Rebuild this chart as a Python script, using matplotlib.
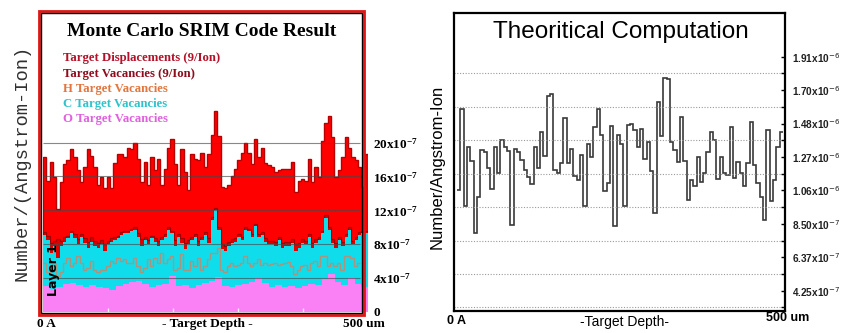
import numpy as np
import matplotlib
matplotlib.use('Agg')
import matplotlib.pyplot as plt
from matplotlib.patches import Rectangle

#--------------------------------------------
# Data
#--------------------------------------------

# left panel (SRIM), units of 1e-7 number/(Angstrom-Ion)
disp = [18.3, 15.5, 17.7, 15.9, 12.1, 15.3, 17.5, 17.9, 19.2, 18.3,
        16.7, 15.3, 17.1, 19.2, 18.4, 17.1, 15.0, 15.9, 14.6, 15.9,
        14.6, 17.6, 18.6, 18.7, 18.3, 19.4, 19.2, 19.9, 18.1, 15.3,
        17.7, 15.0, 18.3, 16.7, 18.0, 15.0, 16.9, 19.4, 20.4, 17.5,
        15.0, 19.2, 16.5, 14.4, 18.6, 18.0, 17.9, 18.8, 17.1, 18.7,
        20.9, 23.7, 20.8, 14.8, 14.6, 15.0, 16.1, 16.9, 17.9, 18.8,
        20.0, 18.8, 17.5, 20.4, 18.3, 19.4, 17.6, 17.3, 17.1, 16.5,
        16.7, 16.9, 16.9, 16.9, 17.7, 14.2, 15.5, 15.7, 15.5, 18.1,
        15.3, 17.1, 15.9, 20.2, 22.3, 23.1, 20.6, 15.9, 16.7, 18.3,
        20.6, 19.4, 18.3, 17.9, 17.1, 14.8, 18.6]
vac = [9.4, 9.0, 8.2, 8.4, 8.6, 8.4, 8.8, 9.0, 9.6, 9.2,
       8.6, 9.2, 8.7, 8.3, 8.8, 8.4, 8.2, 8.5, 8.0, 8.4,
       8.7, 8.9, 9.0, 9.4, 9.6, 9.6, 9.8, 10.0, 9.3, 8.6,
       8.9, 8.5, 9.0, 8.7, 8.4, 8.9, 9.2, 10.0, 9.6, 8.5,
       9.2, 8.7, 8.2, 8.5, 8.9, 9.2, 8.4, 8.9, 9.4, 8.7,
       11.2, 12.3, 10.0, 8.0, 7.8, 8.3, 8.6, 8.7, 9.2, 8.9,
       10.0, 9.8, 9.2, 10.4, 9.2, 9.4, 8.7, 8.4, 8.4, 8.3,
       8.9, 8.1, 8.3, 8.3, 8.6, 8.0, 8.1, 8.6, 8.4, 9.2,
       8.1, 8.6, 8.9, 9.6, 11.4, 10.0, 8.6, 8.1, 8.9, 8.3,
       9.2, 10.0, 8.4, 8.9, 9.4, 9.6, 9.6]
c_vac = [9.1, 8.5, 7.0, 7.8, 6.4, 7.8, 8.3, 8.7, 9.3, 8.7,
         8.0, 8.9, 8.2, 7.6, 8.3, 7.8, 7.6, 8.0, 7.2, 8.0,
         8.3, 8.5, 8.7, 9.1, 9.3, 9.3, 9.5, 9.7, 8.9, 7.8,
         8.5, 8.0, 8.7, 8.3, 7.8, 8.5, 8.9, 9.7, 9.3, 7.8,
         8.9, 8.2, 7.4, 8.0, 8.5, 8.9, 7.8, 8.5, 9.1, 8.2,
         10.9, 12.0, 9.7, 7.4, 7.2, 7.8, 8.2, 8.3, 8.9, 8.5,
         9.7, 9.5, 8.9, 10.1, 8.9, 9.1, 8.3, 8.0, 8.0, 7.8,
         8.5, 7.6, 7.8, 7.8, 8.2, 7.2, 7.6, 8.2, 8.0, 8.9,
         7.6, 8.2, 8.5, 9.3, 11.1, 9.7, 8.2, 7.6, 8.5, 7.8,
         8.9, 9.7, 8.0, 8.5, 9.1, 9.3, 9.3]
h_vac = [5.8, 4.7, 5.4, 5.8, 4.3, 4.7, 5.8, 6.4, 5.4, 5.8,
         6.6, 5.8, 5.0, 5.2, 6.0, 4.9, 4.7, 5.0, 4.9, 5.4,
         6.0, 5.8, 6.4, 6.0, 6.2, 5.8, 5.8, 6.4, 5.4, 4.7,
         5.2, 6.2, 5.4, 6.4, 5.8, 7.0, 5.8, 6.2, 6.6, 5.0,
         5.2, 6.8, 5.0, 4.9, 6.0, 5.4, 6.4, 5.0, 5.4, 6.2,
         7.0, 7.0, 7.6, 4.9, 4.7, 5.4, 5.8, 5.4, 5.6, 5.8,
         6.6, 5.8, 5.4, 5.8, 6.2, 5.6, 5.8, 5.6, 5.7, 5.8,
         5.6, 5.7, 5.8, 5.9, 5.4, 4.5, 4.9, 5.4, 5.6, 5.0,
         5.8, 6.0, 5.4, 6.6, 6.6, 5.4, 5.8, 5.4, 5.8, 5.0,
         6.6, 6.6, 6.4, 5.4, 5.8]
o_vac = [3.1, 2.7, 2.9, 3.3, 3.4, 3.2, 3.0, 3.2, 2.9, 2.8,
         2.6, 3.1, 3.3, 3.5, 3.7, 3.3, 3.0, 3.2, 3.3, 4.3,
         3.1, 3.2, 2.8, 3.2, 3.4, 3.7, 4.1, 3.1, 2.9, 3.2,
         3.3, 3.5, 4.0, 3.4, 3.0, 3.2, 2.9, 3.1, 2.8, 3.1,
         3.3, 3.2, 3.9, 4.5, 3.5, 3.2, 4.0, 3.3, 3.0]
left_ticks = [0, 4, 8, 12, 16, 20]
left_ticklabels = ['0', '4x10$^{-7}$', '8x10$^{-7}$', '12x10$^{-7}$',
                   '16x10$^{-7}$', '20x10$^{-7}$']
legend_labels = ['Target Displacements (9/Ion)', 'Target Vacancies (9/Ion)',
                 'H Target Vacancies', 'C Target Vacancies', 'O Target Vacancies']
legend_colors = ['#B3122A', '#8E0C1E', '#E2763E', '#2EC3CC', '#E060E0']

# right panel (theoretical), units of 1e-6
theo = [1.065, 1.581, 0.965, 1.339, 1.248, 0.792, 1.023, 1.318, 1.307, 1.202,
        1.072, 1.339, 1.171, 1.385, 1.339, 1.314, 0.844, 1.328, 1.307, 1.255,
        1.192, 1.145, 1.101, 1.339, 1.202, 1.434, 1.280, 1.665, 1.676, 1.192,
        1.175, 1.238, 1.524, 1.234, 1.328, 1.154, 1.129, 1.286, 0.965, 1.356,
        1.276, 1.465, 1.581, 1.413, 1.061, 1.107, 1.469, 0.834, 1.413, 1.360,
        0.965, 1.476, 1.486, 1.444, 1.339, 1.455, 1.265, 1.370, 1.188, 0.922,
        1.623, 1.407, 1.777, 1.770, 1.370, 1.318, 1.244, 1.528, 1.250, 1.003,
        1.129, 1.091, 1.272, 1.118, 1.171, 1.307, 1.434, 1.381, 1.133, 1.276,
        1.171, 1.160, 1.465, 1.139, 1.244, 1.171, 1.091, 1.238, 1.497, 1.223,
        1.107, 1.023, 0.876, 1.449, 0.992, 1.129, 1.339, 1.434]
right_ticks = [0.425, 0.6375, 0.85, 1.0625, 1.275, 1.4875, 1.70, 1.9125]
right_ticklabels = ['4.25x10$^{-7}$', '6.37x10$^{-7}$', '8.50x10$^{-7}$',
                    '1.06x10$^{-6}$', '1.27x10$^{-6}$', '1.48x10$^{-6}$',
                    '1.70x10$^{-6}$', '1.91x10$^{-6}$']
right_grid = [0.31875, 0.53125, 0.74375, 0.95625, 1.16875, 1.38125, 1.59375, 1.80625]

H_END = 488   # the H curve and grid stop at the inner frame

plt.rcParams['mathtext.fontset'] = 'custom'
plt.rcParams['mathtext.rm'] = 'Liberation Serif:bold'
plt.rcParams['mathtext.it'] = 'Liberation Serif:bold:italic'
plt.rcParams['mathtext.bf'] = 'Liberation Serif:bold'

W, H = 844, 333
fig = plt.figure(figsize=(W / 100, H / 100), dpi=100)


def box(x0, y0, x1, y1):
    # pixel box (top-left origin) -> figure fraction rect
    return [x0 / W, 1 - y1 / H, (x1 - x0) / W, (y1 - y0) / H]


def ftext(x, y, s, **kw):
    return fig.text(x / W, 1 - y / H, s, **kw)


#--------------------------------------------
# Left: Monte Carlo SRIM
#--------------------------------------------
ax1 = fig.add_axes(box(43, 12, 368, 312))
ax1.set_xlim(0, 500)
ax1.set_ylim(0, 35.4)
for s in ax1.spines.values():
    s.set_visible(False)
ax1.set_xticks([])

def edges(vals, end=500):
    return np.linspace(0, end, len(vals) + 1)

ax1.stairs(disp, edges(disp), fill=True, color='#FF0000', zorder=1)
ax1.stairs(disp, edges(disp), color='#B80000', lw=1.0, zorder=1.5)
ax1.stairs(vac, edges(vac), fill=True, color='#E00000', zorder=2)
ax1.stairs(vac, edges(vac), color='#A00000', lw=0.9, zorder=2.2)
ax1.stairs(c_vac, edges(c_vac), fill=True, color='#10DDEC', zorder=3)
ax1.stairs(o_vac, edges(o_vac), fill=True, color='#FA80F6', zorder=4)
ax1.stairs(h_vac, edges(h_vac, H_END), baseline=None, color='#A8957F', lw=1.0, zorder=5)
ax1.hlines(left_ticks[1:], 0, H_END, colors='#484848', lw=0.8, alpha=0.65, zorder=6)
ax1.vlines([100, 200, 300, 400], 0, 0.5, colors='#EEEEEE', lw=1, zorder=7)

ax1.yaxis.tick_right()
ax1.set_yticks(left_ticks)
ax1.set_yticklabels(left_ticklabels, fontfamily='Liberation Serif',
                    fontweight='bold', fontsize=9.5)
ax1.tick_params(axis='y', length=0, pad=3.6)

fig.add_artist(Rectangle((38.8 / W, 1 - 315 / H), 325.2 / W, 304.5 / H,
                         transform=fig.transFigure, fill=False,
                         ec='#E01515', lw=2, zorder=3))
fig.add_artist(Rectangle((41.3 / W, 1 - 313 / H), 320.5 / W, 300.5 / H,
                         transform=fig.transFigure, fill=False,
                         ec='black', lw=1, zorder=3))

ftext(202, 32, 'Monte Carlo SRIM Code Result', ha='center', va='center',
      fontfamily='Liberation Serif', fontweight='bold', fontsize=14)
for i, (lab, col) in enumerate(zip(legend_labels, legend_colors)):
    ftext(63, 58.5 + i * 15.2, lab, ha='left', va='center', color=col,
          fontfamily='Liberation Serif', fontweight='bold', fontsize=9.2)

ftext(22, 163, 'Number/(Angstrom-Ion)', rotation=90, ha='center', va='center',
      fontfamily='Liberation Mono', fontsize=13.5, color='#303030')
ftext(53, 270, 'Layer 1', rotation=90, ha='center', va='center',
      fontfamily='DejaVu Sans', fontweight='bold', fontsize=9, zorder=5)
ftext(37, 324, '0 A', ha='left', va='center', fontfamily='Liberation Serif',
      fontweight='bold', fontsize=9.5)
ftext(207, 324, '- Target Depth -', ha='center', va='center',
      fontfamily='Liberation Serif', fontweight='bold', fontsize=9.5)
ftext(364, 324, '500 um', ha='center', va='center', fontfamily='Liberation Serif',
      fontweight='bold', fontsize=9.5)

#--------------------------------------------
# Right: theoretical computation
#--------------------------------------------
ax2 = fig.add_axes(box(454, 13, 785, 311))
n = len(theo)
ax2.set_xlim(-0.9, n + 0.6)
ax2.set_ylim(0.296, 2.19)
ax2.stairs(theo, np.arange(n + 1), baseline=None, color='#3A3A3A', lw=1.2)
for s in ax2.spines.values():
    s.set_linewidth(1.6)
ax2.set_xticks([])
ax2.yaxis.tick_right()
ax2.set_yticks(right_ticks)
ax2.set_yticks(right_grid, minor=True)
ax2.set_yticklabels(right_ticklabels, fontfamily='Liberation Sans',
                    fontweight='bold', fontsize=7.2, color='#202020')
for t in ax2.get_yticklabels():
    t.set_math_fontfamily('dejavusans')
ax2.tick_params(axis='y', which='both', direction='in', length=3, width=1,
                right=True, left=False, pad=5)
ax2.grid(which='minor', axis='y', ls=(0, (1, 1.5)), color='#9A9A9A', lw=0.8)

ftext(621, 32, 'Theoritical Computation', ha='center', va='center',
      fontfamily='Liberation Sans', fontsize=17.5)
ftext(437, 167, 'Number/Angstrom-Ion', rotation=90, ha='center', va='center',
      fontfamily='Liberation Sans', fontsize=12)
ftext(447, 321, '0 A', ha='left', va='center', fontfamily='Liberation Sans',
      fontweight='bold', fontsize=9)
ftext(624, 322, '-Target Depth-', ha='center', va='center',
      fontfamily='Liberation Sans', fontsize=10)
ftext(788, 318, '500 um', ha='center', va='center', fontfamily='Liberation Sans',
      fontweight='bold', fontsize=9)

fig.savefig('out.png', dpi=100)
